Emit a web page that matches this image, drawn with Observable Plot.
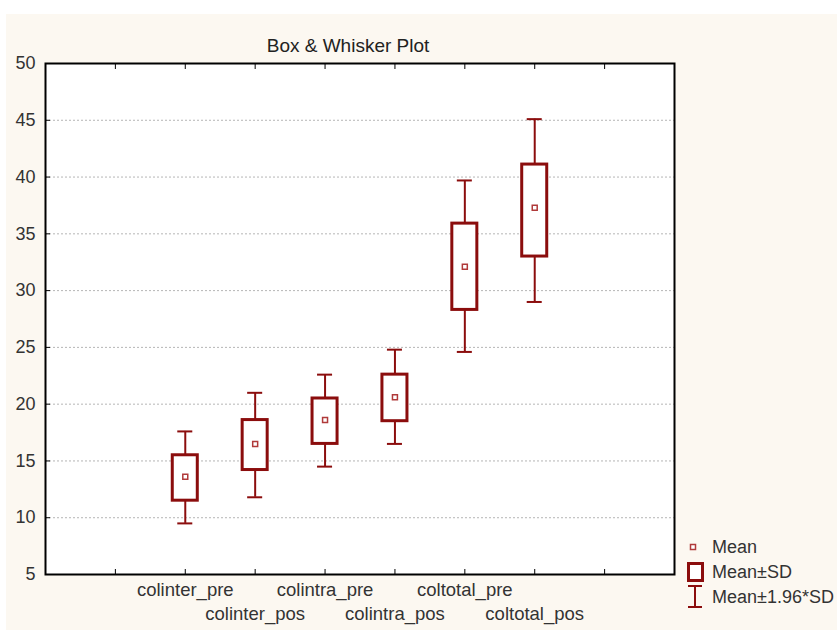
<!DOCTYPE html>
<html>
<head>
<meta charset="utf-8">
<script src="https://cdn.jsdelivr.net/npm/d3@7"></script>
<script src="https://cdn.jsdelivr.net/npm/@observablehq/plot@0.6"></script>
<style>
  html, body { margin: 0; padding: 0; background: #ffffff; }
  #wrap { position: relative; width: 837px; height: 630px; overflow: hidden; }
  #cream { position: absolute; left: 6px; top: 14px; right: 0; bottom: 0; background: #fcf8f1; }
  #chart { position: absolute; left: 0; top: 0; }
  #legend { position: absolute; left: 0; top: 0; }
</style>
</head>
<body>
<div id="wrap">
  <div id="cream"></div>
  <div id="chart"></div>
  <svg id="legend" width="837" height="630"></svg>
</div>
<script>
// ---- data ----
const categories = ["colinter_pre", "colinter_pos", "colintra_pre", "colintra_pos", "coltotal_pre", "coltotal_pos"];
const means  = [13.6, 16.5, 18.6, 20.6, 32.1, 37.3];
const sdLow  = [11.5, 14.2, 16.5, 18.5, 28.3, 33.0];
const sdHigh = [15.5, 18.6, 20.5, 22.6, 35.9, 41.1];
const ciLow  = [9.5, 11.8, 14.5, 16.5, 24.6, 29.0];
const ciHigh = [17.6, 21.0, 22.6, 24.8, 39.7, 45.1];
const yTicks = [5, 10, 15, 20, 25, 30, 35, 40, 45, 50];
const gridTicks = [10, 15, 20, 25, 30, 35, 40, 45];
const legendLabels = ["Mean", "Mean±SD", "Mean±1.96*SD"];
const title = "Box & Whisker Plot";

const data = categories.map((c, i) => ({
  cat: c, mean: means[i], sdLow: sdLow[i], sdHigh: sdHigh[i], ciLow: ciLow[i], ciHigh: ciHigh[i], idx: i
}));
const xDomain = [" ", ...categories, "  "];

const RED = "#8b0d0d";
const MEANRED = "#b03a3a";
const TXT = "#333333";
const FONT = "'Liberation Sans', Arial, sans-serif";

const chart = Plot.plot({
  width: 837,
  height: 630,
  marginLeft: 45,
  marginRight: 163,
  marginTop: 63,
  marginBottom: 56,
  style: { background: "transparent", fontFamily: FONT, fontSize: "18px", color: TXT },
  x: { type: "band", domain: xDomain, paddingInner: 0.642, paddingOuter: 0.821, round: false, axis: null, label: null },
  y: { domain: [5, 50], axis: null, label: null },
  marks: [
    Plot.frame({ fill: "white", stroke: "none" }),
    Plot.gridY(gridTicks, { stroke: "#b5b5b5", strokeOpacity: 1, strokeDasharray: "2,2" }),
    Plot.ruleX(data, { x: "cat", y1: "ciLow", y2: "ciHigh", stroke: RED, strokeWidth: 2 }),
    Plot.tickY(data, { x: "cat", y: "ciLow", stroke: RED, strokeWidth: 2, insetLeft: 5, insetRight: 5 }),
    Plot.tickY(data, { x: "cat", y: "ciHigh", stroke: RED, strokeWidth: 2, insetLeft: 5, insetRight: 5 }),
    Plot.barY(data, { x: "cat", y1: "sdLow", y2: "sdHigh", fill: "white", stroke: RED, strokeWidth: 3 }),
    Plot.dot(data, { x: "cat", y: "mean", symbol: "square", r: 2.8, stroke: MEANRED, strokeWidth: 1.5, fill: "white" }),
    Plot.axisY(yTicks, { anchor: "left", tickSize: -5, tickFormat: () => "", stroke: "black", label: null }),
    Plot.axisY(yTicks, { anchor: "left", tickSize: 0, tickPadding: 10, fill: TXT, fontSize: 18, label: null }),
    Plot.axisX({ anchor: "top", tickSize: -5, tickFormat: () => "", stroke: "black", label: null }),
    Plot.axisX({ anchor: "bottom", tickSize: -5, tickFormat: () => "", stroke: "black", label: null }),
    Plot.text(categories.filter((d, i) => i % 2 === 0), { x: d => d, frameAnchor: "bottom", dy: 21, fill: TXT, fontSize: 18.5 }),
    Plot.text(categories.filter((d, i) => i % 2 === 1), { x: d => d, frameAnchor: "bottom", dy: 45, fill: TXT, fontSize: 18.5 }),
    Plot.text([title], { frameAnchor: "top", dx: -12, dy: -25, fill: "#222", fontSize: 19 }),
    Plot.frame({ stroke: "black", strokeWidth: 2 })
  ]
});
document.getElementById("chart").appendChild(chart);

// ---- legend ----
const lg = d3.select("#legend");
const ys = [547, 572, 597];
lg.append("rect").attr("x", 690.5).attr("y", ys[0] - 2.5).attr("width", 5).attr("height", 5)
  .attr("fill", "white").attr("stroke", MEANRED).attr("stroke-width", 1.5);
lg.append("rect").attr("x", 688.5).attr("y", 563.5).attr("width", 14).attr("height", 17)
  .attr("fill", "white").attr("stroke", RED).attr("stroke-width", 3);
lg.append("line").attr("x1", 695).attr("x2", 695).attr("y1", 586).attr("y2", 607).attr("stroke", RED).attr("stroke-width", 2);
lg.append("line").attr("x1", 688).attr("x2", 702).attr("y1", 586).attr("y2", 586).attr("stroke", RED).attr("stroke-width", 2);
lg.append("line").attr("x1", 688).attr("x2", 702).attr("y1", 607).attr("y2", 607).attr("stroke", RED).attr("stroke-width", 2);
legendLabels.forEach((t, i) => {
  lg.append("text").attr("x", 712).attr("y", ys[i]).attr("dy", "0.35em")
    .attr("font-family", FONT).attr("font-size", 18).attr("fill", TXT).text(t);
});
</script>
</body>
</html>
